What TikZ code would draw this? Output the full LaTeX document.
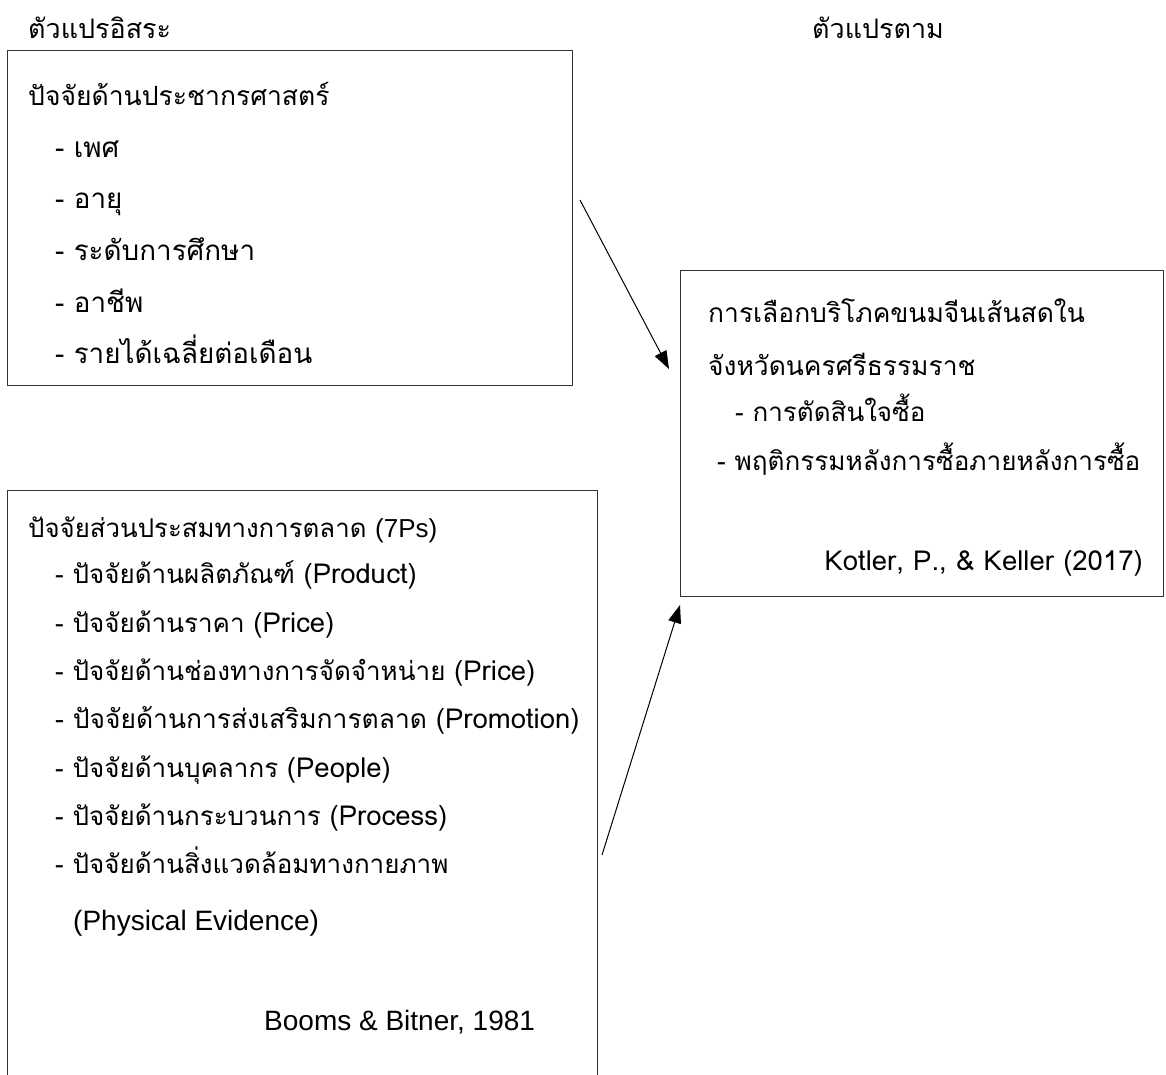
\documentclass[tikz,border=0pt]{standalone}
\usepackage{fontspec}
\usetikzlibrary{arrows.meta}
\newfontfamily\thaifont[Script=Thai]{Loma}
\newfontfamily\arialfont{Liberation Sans}
\newcommand{\latn}[1]{{\fontsize{27.5}{30}\selectfont #1}}
\begin{document}
\begin{tikzpicture}[x=1pt,y=-1pt,
  box/.style={draw=black!80, line width=1pt},
  th/.style={anchor=base west, inner sep=0pt, font=\thaifont\fontsize{#1}{30}\selectfont},
  th/.default=26,
  thr/.style={anchor=base east, inner sep=0pt, font=\thaifont\fontsize{#1}{30}\selectfont},
  thr/.default=27.5,
  ar/.style={anchor=base west, inner sep=0pt, font=\arialfont\fontsize{28}{32}\selectfont},
  arr/.style={line width=1pt, -{Triangle[length=18pt,width=13pt]}}]
\useasboundingbox (0,0) rectangle (1166,1074);
\clip (0,0) rectangle (1166,1074);
% titles
\node[th=26.9] (t1) at (28,38) {ตัวแปรอิสระ};
\node[th=26.9] (t2) at (812,38) {ตัวแปรตาม};
% box 1
\draw[box] (7,50) rectangle (572,385);
\node[th=26.5] (b1h) at (28,105) {ปัจจัยด้านประชากรศาสตร์};
\node[th=27.8] (b1a) at (55,157) {- เพศ};
\node[th=27.8] (b1b) at (55,208) {- อายุ};
\node[th=27.8] (b1c) at (55,260) {- ระดับการศึกษา};
\node[th=27.8] (b1d) at (55,312) {- อาชีพ};
\node[th=27.8] (b1e) at (55,363) {- รายได้เฉลี่ยต่อเดือน};
% box 3
\draw[box] (680,270) rectangle (1163,596);
\node[th=26.4] (b3h) at (708,322) {การเลือกบริโภคขนมจีนเส้นสดใน};
\node[th=26.4] (b3i) at (708,375) {จังหวัดนครศรีธรรมราช};
\node[th=26] (b3a) at (735,421) {- การตัดสินใจซื้อ};
\node[th=26.1] (b3b) at (717,470) {- พฤติกรรมหลังการซื้อภายหลังการซื้อ};
\node[thr] (b3c) at (1143,570) {Kotler, P., \& Keller (2017)};
% box 2
\draw[box] (7,1100) -- (7,490) -- (597,490) -- (597,1100);
\node[th=25.8] (b2h) at (28,537) {ปัจจัยส่วนประสมทางการตลาด {\arialfont\fontsize{26}{30}\selectfont(7Ps)}};
\node[th] (b2a) at (55,583) {- ปัจจัยด้านผลิตภัณฑ์ \latn{(Product)}};
\node[th] (b2b) at (55,632) {- ปัจจัยด้านราคา \latn{(Price)}};
\node[th] (b2c) at (55,680) {- ปัจจัยด้านช่องทางการจัดจำหน่าย \latn{(Price)}};
\node[th=26.4] (b2d) at (55,728) {- ปัจจัยด้านการส่งเสริมการตลาด \latn{(Promotion)}};
\node[th] (b2e) at (55,777) {- ปัจจัยด้านบุคลากร \latn{(People)}};
\node[th] (b2f) at (55,825) {- ปัจจัยด้านกระบวนการ \latn{(Process)}};
\node[th] (b2g) at (55,873) {- ปัจจัยด้านสิ่งแวดล้อมทางกายภาพ};
\node[ar] (b2p) at (73,930) {(Physical Evidence)};
\node[ar] (b2s) at (264,1030) {Booms \& Bitner, 1981};
% arrows
\coordinate (a1s) at (580,200);
\coordinate (a1e) at (669,369);
\coordinate (a2s) at (602,855);
\coordinate (a2e) at (680,605);
\draw[arr] (a1s) -- (a1e);
\draw[arr] (a2s) -- (a2e);
\end{tikzpicture}
\end{document}
